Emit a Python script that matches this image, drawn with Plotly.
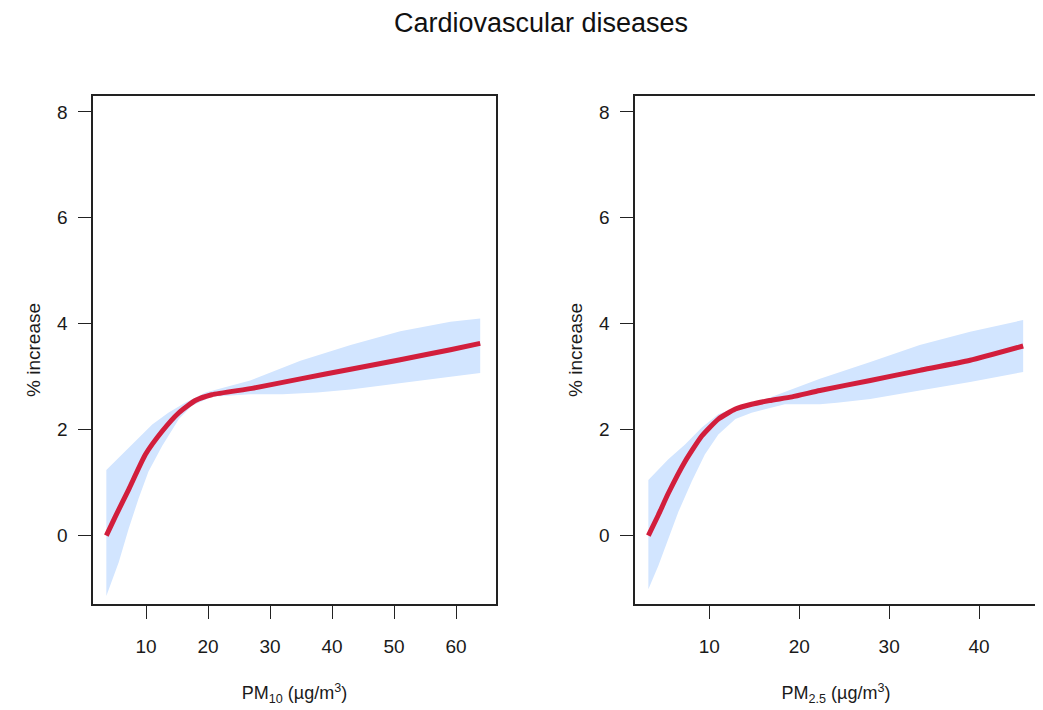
import plotly.graph_objects as go

# ---- PM10 panel ----
pm10_x = [3.6, 5.05, 7.2, 9.9, 12.6, 15.3, 17.95, 20.6, 27.1, 34.9, 43.0, 51.0, 59.1, 63.9]
pm10_y = [0.0, 0.36, 0.87, 1.53, 1.97, 2.32, 2.55, 2.66, 2.78, 2.96, 3.14, 3.32, 3.51, 3.63]
pm10_up_x = [3.6, 5.6, 8.3, 11.0, 13.6, 16.3, 19.6, 26.8, 34.9, 43.0, 51.0, 59.1, 63.9]
pm10_up_y = [1.24, 1.47, 1.78, 2.10, 2.32, 2.51, 2.70, 2.93, 3.30, 3.60, 3.86, 4.04, 4.10]
pm10_lo_x = [3.6, 5.6, 7.2, 8.8, 10.4, 12.6, 15.3, 17.4, 20.6, 26.8, 32.0, 37.6, 43.0, 51.0, 59.1, 63.9]
pm10_lo_y = [-1.14, -0.50, 0.13, 0.70, 1.21, 1.69, 2.20, 2.45, 2.62, 2.67, 2.67, 2.70, 2.76, 2.88, 3.00, 3.07]

# ---- PM2.5 panel ----
pm25_x = [3.22, 4.33, 5.44, 7.3, 9.16, 11.0, 12.9, 14.7, 16.7, 19.2, 22.3, 27.9, 33.4, 39.0, 44.9]
pm25_y = [0.0, 0.39, 0.80, 1.40, 1.88, 2.20, 2.39, 2.48, 2.55, 2.62, 2.74, 2.93, 3.12, 3.31, 3.58]
pm25_up_x = [3.22, 5.44, 7.3, 9.16, 11.0, 12.9, 16.6, 22.3, 27.9, 33.4, 39.0, 44.9]
pm25_up_y = [1.05, 1.44, 1.72, 2.04, 2.29, 2.42, 2.60, 2.96, 3.28, 3.60, 3.85, 4.07]
pm25_lo_x = [3.22, 4.33, 5.44, 6.56, 8.04, 9.5, 11.0, 12.9, 14.7, 18.4, 22.3, 24.2, 27.9, 33.4, 39.0, 44.9]
pm25_lo_y = [-1.01, -0.57, -0.06, 0.45, 1.02, 1.53, 1.91, 2.20, 2.32, 2.48, 2.48, 2.51, 2.58, 2.74, 2.90, 3.09]

y_ticks = [0, 2, 4, 6, 8]
x10_ticks = [10, 20, 30, 40, 50, 60]
x25_ticks = [10, 20, 30, 40]

BAND = "#D2E5FF"
LINE = "#D21E3C"
FONT = "Liberation Sans"
TXT = "#1a1a1a"

fig = go.Figure()

def add_panel(xa, ya, cx, cy, ux, uy, lx, ly):
    fig.add_trace(go.Scatter(
        x=list(ux) + list(lx)[::-1], y=list(uy) + list(ly)[::-1],
        fill="toself", fillcolor=BAND, line=dict(width=0), mode="lines",
        hoverinfo="skip", showlegend=False, xaxis=xa, yaxis=ya))
    fig.add_trace(go.Scatter(
        x=cx, y=cy, mode="lines",
        line=dict(color=LINE, width=5, shape="spline", smoothing=0.5),
        showlegend=False, xaxis=xa, yaxis=ya))

add_panel("x", "y", pm10_x, pm10_y, pm10_up_x, pm10_up_y, pm10_lo_x, pm10_lo_y)
add_panel("x2", "y2", pm25_x, pm25_y, pm25_up_x, pm25_up_y, pm25_lo_x, pm25_lo_y)

axis_common = dict(showgrid=False, zeroline=False, showline=True, mirror=True,
                   linecolor="#222", linewidth=1.5, ticks="outside", ticklen=13,
                   tickwidth=1.3, tickcolor="#222",
                   tickfont=dict(family=FONT, size=19, color=TXT))

yrange = [-1.29, 8.30]
ydom = [0.1606, 0.8761]

def xtitle(sub):
    return dict(text="PM<sub>" + sub + "</sub> (µg/m<sup>3</sup>)", standoff=31,
                font=dict(family=FONT, size=18, color=TXT))

ytitle = dict(text="% increase", standoff=11, font=dict(family=FONT, size=19, color=TXT))

fig.update_layout(
    width=1043, height=710,
    paper_bgcolor="white", plot_bgcolor="white",
    margin=dict(l=0, r=0, t=0, b=0),
    title=dict(text="Cardiovascular diseases", x=0.511, xanchor="center",
               y=0.980, yanchor="middle",
               font=dict(family=FONT, size=27, color="#111")),
    xaxis=dict(domain=[0.0815, 0.4679], range=[1.45, 66.45], tickvals=x10_ticks,
               ticklabelstandoff=11, title=xtitle("10"), anchor="y", **axis_common),
    yaxis=dict(domain=ydom, range=yrange, tickvals=y_ticks,
               ticklabelstandoff=7, title=ytitle, anchor="x", **axis_common),
    xaxis2=dict(domain=[0.6012, 0.9866], range=[1.74, 46.44], tickvals=x25_ticks,
                ticklabelstandoff=11, title=xtitle("2.5"), anchor="y2", **axis_common),
    yaxis2=dict(domain=ydom, range=yrange, tickvals=y_ticks,
                ticklabelstandoff=7, title=ytitle, anchor="x2", **axis_common),
)

fig.write_html("out.html")
